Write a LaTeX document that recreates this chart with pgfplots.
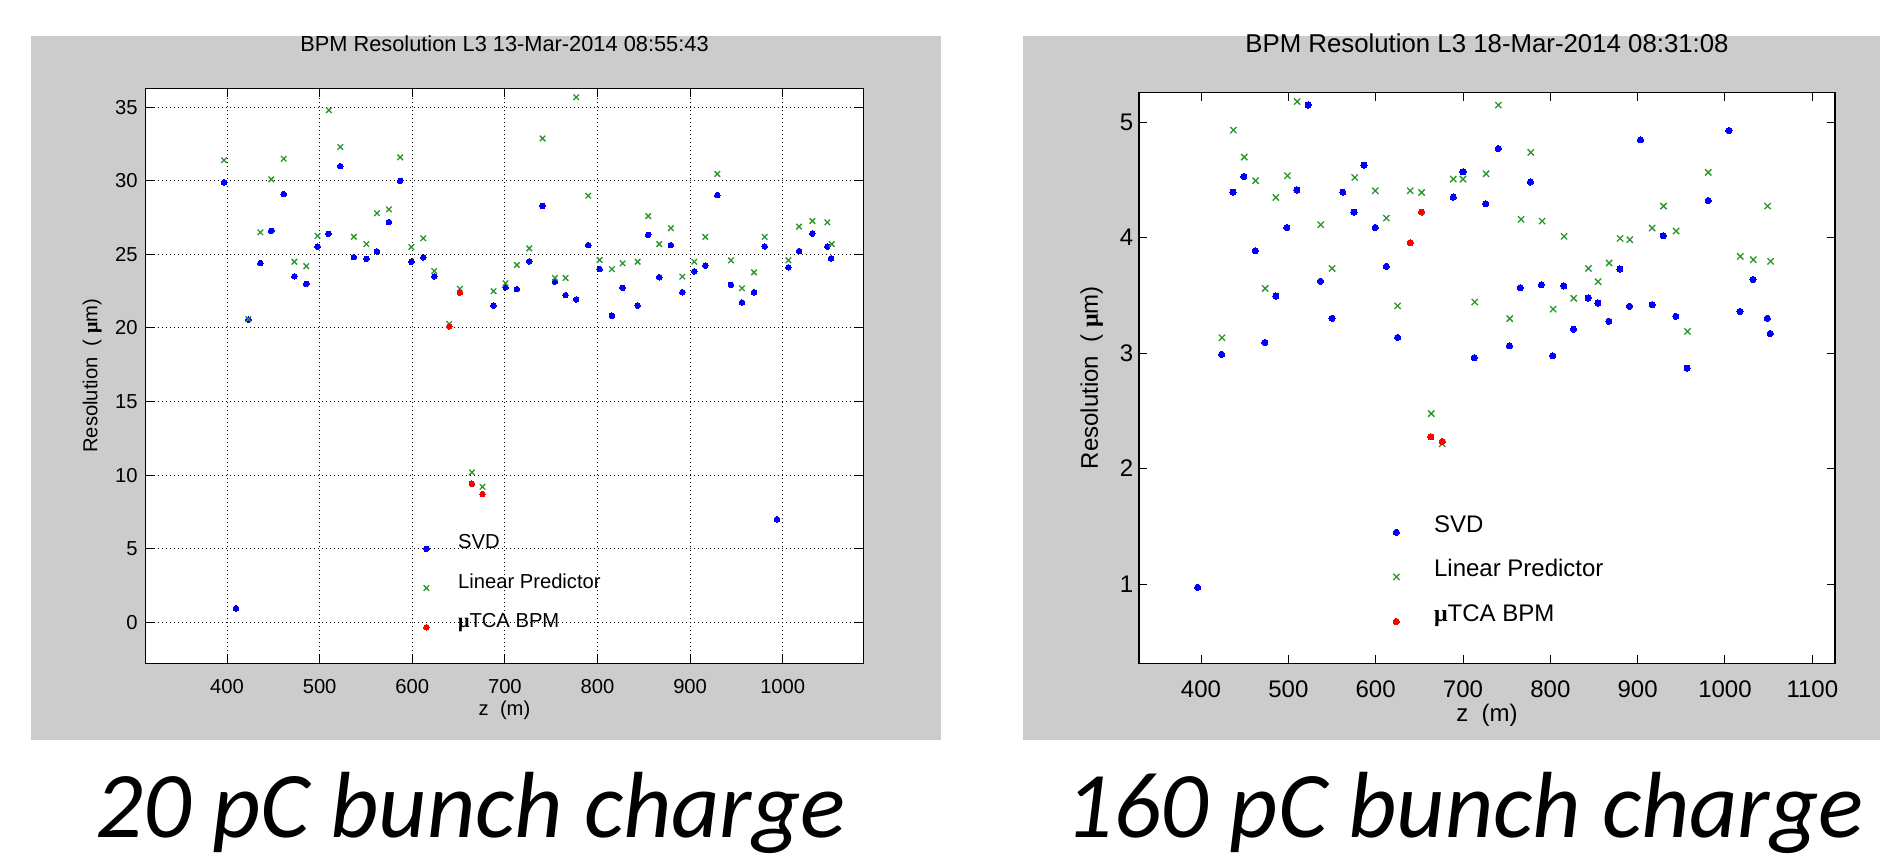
\documentclass[border=0pt]{standalone}
\usepackage{fontspec}
\setmainfont{Liberation Sans}
\newfontfamily\serifmu{Liberation Serif}
\newfontfamily\capfont{Carlito}
\usepackage{pgfplots}
\pgfplotsset{compat=1.18}
\definecolor{mgreen}{RGB}{40,150,40}
\definecolor{figgray}{RGB}{204,204,204}
\newcommand{\mus}{{\serifmu\bfseries μ}}
\newcommand{\lfont}{\fontsize{10.1}{12}\selectfont}
\newcommand{\ltfont}{\fontsize{10.9}{13}\selectfont}
\newcommand{\rfont}{\fontsize{12}{14}\selectfont}
\newcommand{\rtfont}{\fontsize{12.9}{15}\selectfont}
\pgfplotsset{
  matstyle/.style={
    scale only axis,
    axis background/.style={fill=white},
    axis line style={line width=0.6pt, black},
    major tick length=4.2pt,
    every tick/.style={line width=0.5pt, black},
    tick align=inside,
    /pgf/number format/assume math mode=true,
    /pgf/number format/1000 sep={},
    legend cell align=left,
  },
  legimg/.style={legend image code/.code={\path (-4pt,-2pt) (4pt,2pt); \draw[##1, overlay] plot coordinates {(0pt,0pt)};}},
  svd/.style={only marks, mark=*, mark size=#1, color=blue, mark options={draw=blue, fill=blue, line width=0pt}, legimg},
  lp/.style={only marks, mark=x, mark size=#1, color=mgreen, mark options={line width=0.65pt}, legimg},
  utca/.style={only marks, mark=*, mark size=#1, color=red, mark options={draw=red, fill=red, line width=0pt}, legimg},
}
\begin{document}
\begin{tikzpicture}
\useasboundingbox (0pt,0pt) rectangle (940pt,428.5pt);
\fill[figgray] (15.5pt,58.5pt) rectangle (470.5pt,410.5pt);
\fill[figgray] (511.5pt,58.5pt) rectangle (940pt,410.5pt);

% ---------------- left panel: 20 pC
\begin{axis}[matstyle,
  at={(72.85pt,96.85pt)}, anchor=south west,
  width=358.8pt, height=287.5pt,
  xmin=312.2, xmax=1087, ymin=-2.79, ymax=36.29,
  xtick={400,500,...,1000}, ytick={0,5,...,35},
  grid=major,
  major grid style={line width=0.5pt, black, dash pattern=on 0.5pt off 1.5pt},
  tick label style={font=\lfont},
  xticklabel style={yshift=-4.6pt},
  yticklabel style={xshift=-0.5pt},
  label style={font=\lfont},
  xlabel={z\ \ (m)},
  xlabel style={at={(axis description cs:0.5,0)}, anchor=north, yshift=-15.2pt},
  ylabel={Resolution\ \ ( \mus m)},
  ylabel style={at={(axis description cs:-0.0744,0.5)}, anchor=center},
  title={BPM Resolution L3 13-Mar-2014 08:55:43},
  title style={font=\ltfont, at={(axis description cs:0.5,1)}, anchor=base, yshift=12.15pt},
  legend style={draw=none, fill=none, inner sep=0pt, outer sep=0pt, inner xsep=0pt, inner ysep=0pt,
    column sep=11.65pt, row sep=0pt, font=\lfont,
    nodes={inner sep=0pt, text height=9.8pt, text depth=9.8pt},
    at={(axis cs:606.2,6.32)}, anchor=north west},
]
\addplot[svd=1.4pt] table {
x y
396.8 29.9
409.7 0.95
423 20.56
436 24.41
447.8 26.6
461.2 29.1
472.7 23.51
485.6 23.0
497.8 25.52
509.4 26.4
522.3 31.0
537 24.82
550.4 24.7
561.9 25.2
574.8 27.2
587 30.0
599 24.5
611.9 24.8
623.7 23.5
687.6 21.52
700.7 22.77
713 22.64
726.3 24.53
740.7 28.3
754 23.15
765.5 22.23
777 21.94
790 25.63
802.3 24.0
815.6 20.83
827.1 22.73
843.3 21.53
854.8 26.33
866.7 23.45
879.3 25.63
891.6 22.43
904.5 23.85
916.4 24.23
929.4 29.03
944.1 22.93
956 21.73
969 22.43
980.5 25.54
993.8 7.0
1006.1 24.12
1017.6 25.23
1032 26.42
1048.2 25.54
1052.2 24.73
};
\addlegendentry{SVD}
\addplot[lp=1.95pt] table {
x y
396.8 31.4
423 20.6
436 26.5
447.8 30.1
461.2 31.5
472.7 24.5
485.6 24.2
497.8 26.26
510 34.8
522.3 32.3
537 26.2
550.4 25.7
561.9 27.8
574.8 28.06
587 31.6
599 25.5
611.9 26.1
623.7 23.87
639.9 20.27
651.4 22.66
664.4 10.18
675.9 9.21
687.8 22.5
700.7 23.04
713 24.28
726.3 25.41
740.7 32.88
754 23.4
765.5 23.4
777 35.68
790 28.99
802.3 24.62
815.6 24.0
827.1 24.39
843.3 24.5
854.8 27.6
866.7 25.7
879.3 26.78
891.6 23.49
904.5 24.5
916.4 26.19
929.4 30.47
944.1 24.6
956 22.7
969 23.78
980.5 26.19
1006.1 24.6
1017.6 26.89
1032 27.27
1048.2 27.18
1052.9 25.7
};
\addlegendentry{Linear Predictor}
\addplot[utca=1.4pt] table {
x y
639.9 20.1
651.4 22.4
664.4 9.41
675.9 8.71
};
\addlegendentry{\mus TCA BPM}
\end{axis}

% ---------------- right panel: 160 pC
\begin{axis}[matstyle,
  at={(569.5pt,96.85pt)}, anchor=south west,
  width=348pt, height=285.5pt,
  xmin=329, xmax=1126, ymin=0.313, ymax=5.26,
  xtick={400,500,...,1100}, ytick={1,2,3,4,5},
  tick label style={font=\rfont},
  xticklabel style={yshift=-5.05pt},
  yticklabel style={xshift=0.65pt},
  label style={font=\rfont},
  xlabel={z\ \ (m)},
  xlabel style={at={(axis description cs:0.5,0)}, anchor=north, yshift=-17.1pt},
  ylabel={Resolution\ \ ( \mus m)},
  ylabel style={at={(axis description cs:-0.068,0.5)}, anchor=center},
  title={BPM Resolution L3 18-Mar-2014 08:31:08},
  title style={font=\rtfont, at={(axis description cs:0.5,1)}, anchor=base, yshift=13.65pt},
  legend style={draw=none, fill=none, inner sep=0pt, outer sep=0pt, inner xsep=0pt, inner ysep=0pt,
    column sep=14.65pt, row sep=0pt, font=\rfont,
    nodes={inner sep=0pt, text height=11.15pt, text depth=11.15pt},
    at={(axis cs:614.1,1.641)}, anchor=north west},
]
\addplot[svd=1.55pt] table {
x y
396.2 0.971
423.6 2.99
436.6 4.395
449.1 4.53
462.1 3.887
473.1 3.092
485.7 3.495
498.3 4.089
509.7 4.413
522.7 5.15
536.8 3.622
550.1 3.302
562.3 4.395
575.2 4.222
586.7 4.629
599.6 4.089
612.2 3.752
625.1 3.136
688.9 4.352
700 4.571
713 2.96
726 4.294
740.5 4.773
753.1 3.063
765.7 3.567
777.2 4.482
789.8 3.593
802.8 2.977
815.4 3.582
826.5 3.208
843.3 3.478
854.4 3.434
867 3.276
879.6 3.729
890.6 3.406
903.2 4.848
916.6 3.42
929.2 4.017
943.7 3.319
956.7 2.87
980.8 4.323
1004.5 4.928
1017.1 3.362
1032 3.639
1048.4 3.302
1051.9 3.17
};
\addlegendentry{SVD}
\addplot[lp=2.2pt] table {
x y
424 3.133
437 4.932
449.5 4.698
462.5 4.494
473.5 3.561
485.7 4.349
499 4.537
510.1 5.18
537.1 4.113
550.1 3.734
576 4.522
599.6 4.407
612.2 4.17
625.1 3.41
639.6 4.407
652.6 4.392
663.6 2.476
676.2 2.215
688.9 4.508
700 4.508
713.4 3.443
726.4 4.554
740.5 5.149
753.5 3.299
766.5 4.159
777.6 4.739
790.6 4.144
803.2 3.381
815.8 4.012
826.8 3.475
843.6 3.734
854.7 3.619
867.3 3.781
879.9 3.994
891 3.983
916.6 4.084
929.6 4.274
944.1 4.058
957.1 3.188
980.8 4.566
1017.5 3.838
1032.4 3.81
1048.8 4.274
1052.2 3.795
};
\addlegendentry{Linear Predictor}
\addplot[utca=1.55pt] table {
x y
639.6 3.957
652.6 4.222
663.2 2.275
676.2 2.235
};
\addlegendentry{\mus TCA BPM}
\end{axis}

\node[anchor=base, inner sep=0pt, font=\capfont\itshape\fontsize{47}{50}\selectfont] at (235.25pt,9.5pt) {20 pC bunch charge};
\node[anchor=base, inner sep=0pt, font=\capfont\itshape\fontsize{47}{50}\selectfont] at (732.25pt,9.5pt) {160 pC bunch charge};
\end{tikzpicture}
\end{document}
